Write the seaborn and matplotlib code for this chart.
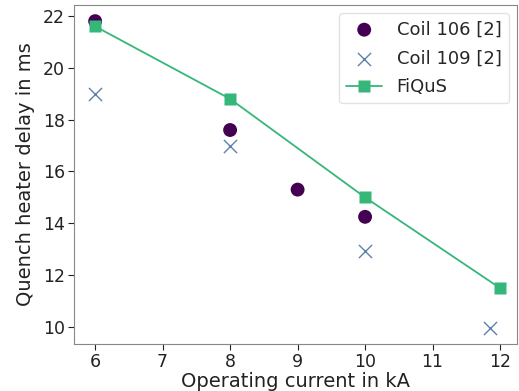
import matplotlib
matplotlib.use("Agg")
import matplotlib.pyplot as plt
import seaborn as sns
import pandas as pd

# Quench heater delay vs operating current
coil106_current = [6, 8, 9, 10]
coil106_delay = [21.8, 17.6, 15.3, 14.25]

coil109_current = [6, 8, 10, 11.85]
coil109_delay = [19.0, 17.0, 12.95, 9.95]

fiqus_current = [6, 8, 10, 12]
fiqus_delay = [21.6, 18.8, 15.0, 11.5]

sns.set_style("ticks")
plt.rcParams["font.family"] = ["DejaVu Sans"]

fig, ax = plt.subplots(figsize=(5.19, 3.91), dpi=100)

df106 = pd.DataFrame({"I": coil106_current, "t": coil106_delay})
df109 = pd.DataFrame({"I": coil109_current, "t": coil109_delay})
dff = pd.DataFrame({"I": fiqus_current, "t": fiqus_delay})

sns.scatterplot(data=df106, x="I", y="t", ax=ax, color="#440154", marker="o",
                s=100, edgecolor="none", label="Coil 106 [2]", zorder=3)
sns.scatterplot(data=df109, x="I", y="t", ax=ax, color="#5b82ac", marker="x",
                s=90, linewidth=1.0, label="Coil 109 [2]", zorder=3)
sns.lineplot(data=dff, x="I", y="t", ax=ax, color="#35b779", marker="s",
             markersize=9, markeredgecolor="none", linewidth=1.3,
             label="FiQuS", zorder=4)

ax.set_xlim(5.69, 12.25)
ax.set_ylim(9.34, 22.42)
ax.set_xticks([6, 7, 8, 9, 10, 11, 12])
ax.set_yticks([10, 12, 14, 16, 18, 20, 22])
ax.set_xlabel("Operating current in kA", fontsize=14, color="#222222", labelpad=1)
ax.set_ylabel("Quench heater delay in ms", fontsize=14, color="#222222", labelpad=6)
ax.tick_params(labelsize=12.5, colors="#222222", length=4, pad=2.5)
for sp in ax.spines.values():
    sp.set_color("#888888")
    sp.set_visible(True)

leg = ax.legend(fontsize=13, loc="upper right", frameon=True,
                borderaxespad=0.45, labelspacing=0.6)
leg.get_frame().set_edgecolor("#dddddd")

fig.subplots_adjust(left=0.143, right=0.996, top=0.987, bottom=0.12)
fig.savefig("out.png", dpi=100)
